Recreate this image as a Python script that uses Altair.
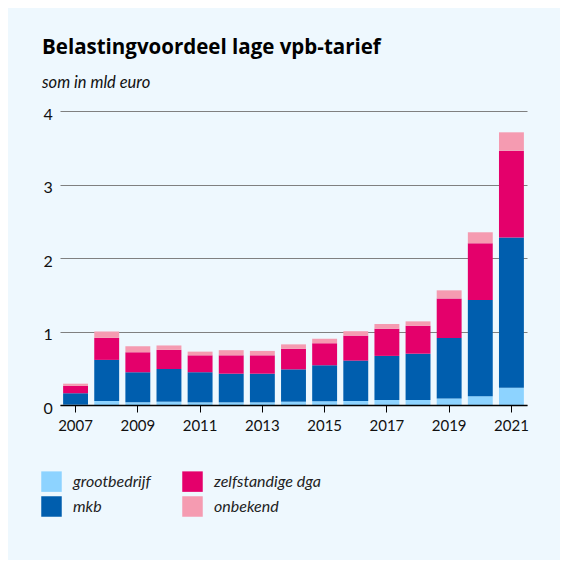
import altair as alt
import pandas as pd

years = list(range(2007, 2022))
categories = ["grootbedrijf", "mkb", "zelfstandige dga", "onbekend"]
groot = [0.005, 0.054, 0.036, 0.045, 0.036, 0.036, 0.036, 0.045, 0.05, 0.054, 0.068, 0.068, 0.09, 0.12, 0.235]
mkb = [0.155, 0.56, 0.41, 0.445, 0.41, 0.39, 0.39, 0.44, 0.49, 0.55, 0.60, 0.63, 0.82, 1.31, 2.045]
dga = [0.10, 0.30, 0.27, 0.26, 0.23, 0.25, 0.25, 0.28, 0.30, 0.34, 0.37, 0.38, 0.54, 0.77, 1.18]
onb = [0.03, 0.086, 0.085, 0.06, 0.05, 0.07, 0.06, 0.06, 0.06, 0.06, 0.064, 0.06, 0.11, 0.15, 0.25]
x_ticks = [2007, 2009, 2011, 2013, 2015, 2017, 2019, 2021]
y_ticks = [0, 1, 2, 3, 4]

colors = {
    "grootbedrijf": "#8dd3ff",
    "mkb": "#005eae",
    "zelfstandige dga": "#e4006b",
    "onbekend": "#f59bb1",
}

rows = []
for series_i, (cat, vals) in enumerate(zip(categories, [groot, mkb, dga, onb])):
    for y, v in zip(years, vals):
        rows.append({"jaar": y, "categorie": cat, "waarde": v, "volgorde": series_i})
df = pd.DataFrame(rows)

FONT = "Lato"

chart = (
    alt.Chart(df)
    .mark_bar()
    .encode(
        x=alt.X(
            "jaar:O",
            scale=alt.Scale(paddingInner=0.2, paddingOuter=0.1),
            axis=alt.Axis(
                values=x_ticks, title=None, labelAngle=0, grid=False,
                domainColor="#000", domainWidth=1.5, tickColor="#000", tickSize=7,
                tickWidth=1, labelPadding=6, labelFontSize=15, labelFont=FONT,
                labelColor="#111", zindex=1,
            ),
        ),
        y=alt.Y(
            "waarde:Q",
            stack="zero",
            scale=alt.Scale(domain=[0, 4]),
            axis=alt.Axis(
                values=y_ticks, title=None, grid=True, gridColor="#808080",
                gridWidth=1, domain=False, ticks=False, tickSize=0,
                labelAlign="left", labelPadding=17, labelFontSize=16,
                labelFont=FONT, labelColor="#111", labelOffset=3,
            ),
        ),
        color=alt.Color(
            "categorie:N",
            scale=alt.Scale(domain=categories, range=[colors[c] for c in categories]),
            legend=alt.Legend(
                title=None, orient="none", legendX=-19, legendY=360, columns=2,
                symbolType="square", symbolSize=420, symbolStrokeWidth=0,
                labelFont=FONT, labelFontStyle="italic", labelFontSize=16,
                labelColor="#222", labelOffset=11, columnPadding=31, rowPadding=4,
            ),
        ),
        order=alt.Order("volgorde:Q", sort="ascending"),
    )
    .properties(
        width=467,
        height=294,
        autosize=alt.AutoSizeParams(type="none"),
        padding={"left": 52, "top": 103, "right": 33, "bottom": 155},
        background="#eef8fe",
        title=alt.Title(
            "Belastingvoordeel lage vpb-tarief",
            subtitle="som in mld euro",
            anchor="start", frame="group", dx=-18, offset=15,
            font="Open Sans", fontSize=20.5, fontWeight="bold", color="#000",
            subtitleFont=FONT, subtitleFontStyle="italic", subtitleFontSize=16.5,
            subtitleColor="#111", subtitlePadding=16,
        ),
    )
    .configure_view(stroke=None)
)

chart.save("out.html", embed_options={"renderer": "svg", "actions": False})
